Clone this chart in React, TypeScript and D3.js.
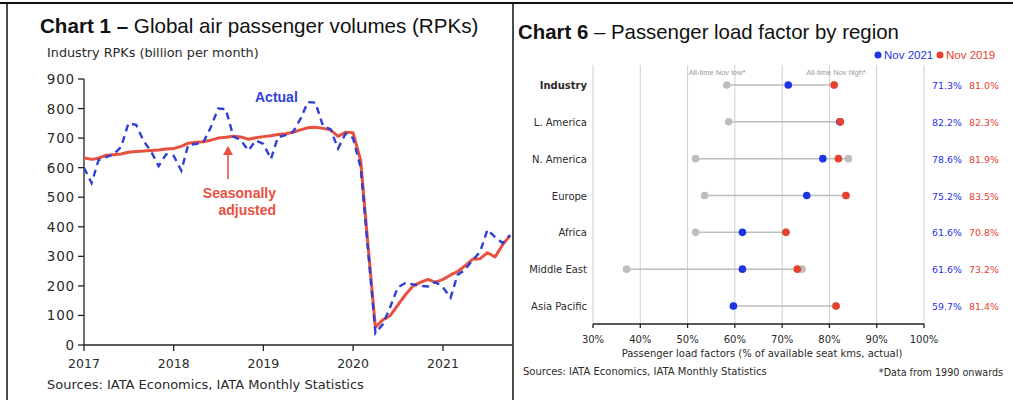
import React, { useEffect, useRef } from 'react';
import * as d3 from 'd3';

// Chart 1: monthly RPKs, Jan 2017 .. Oct 2021 (billion)
const actualRpk = [
  600, 548, 625, 636, 645, 670, 750, 745, 690, 655, 605, 645,
  640, 590, 677, 680, 685, 737, 800, 798, 705, 693, 658, 692,
  680, 630, 703, 710, 720, 765, 822, 820, 740, 730, 665, 715,
  700, 600, 330, 40, 70, 130, 195, 210, 205, 200, 198, 213,
  195, 160, 237, 255, 287, 315, 390, 365, 345, 372,
];
const adjustedRpk = [
  633, 628, 632, 642, 644, 646, 652, 655, 656, 658, 660, 663,
  665, 672, 683, 686, 688, 693, 700, 703, 706, 704, 696, 701,
  705, 708, 712, 715, 720, 728, 735, 737, 733, 728, 706, 720,
  718, 625, 345, 60, 85, 100, 135, 170, 200, 212, 222, 212,
  222, 237, 248, 268, 290, 292, 312, 298, 340, 370,
];
const yearTicks = [2017, 2018, 2019, 2020, 2021];
const rpkTicks = [0, 100, 200, 300, 400, 500, 600, 700, 800, 900];

// Chart 6: load factors (%)
const regions = ['Industry', 'L. America', 'N. America', 'Europe', 'Africa', 'Middle East', 'Asia Pacific'];
const nov2021 = [71.3, 82.2, 78.6, 75.2, 61.6, 61.6, 59.7];
const nov2019 = [81.0, 82.3, 81.9, 83.5, 70.8, 73.2, 81.4];
const allTimeLow = [58.3, 58.7, 51.7, 53.6, 51.7, 37.1, 59.7];
const allTimeHigh = [81.0, 82.3, 84.0, 83.5, 70.8, 74.2, 81.4];
const loadTicks = [30, 40, 50, 60, 70, 80, 90, 100];

const FONT = "'Liberation Sans', Arial, Helvetica, sans-serif";
const WIDE = "'DejaVu Sans', Verdana, sans-serif";
const BLUE = '#2f3fd8';
const RED = '#e8503f';
const DOT_BLUE = '#1f33e6';
const DOT_RED = '#e5412f';
const GREY = '#bdbdbd';
const INK = '#2a2a2a';

export default function App() {
  const svgRef = useRef<SVGSVGElement>(null);

  useEffect(() => {
    if (!svgRef.current) return;
    const svg = d3.select(svgRef.current);
    svg.selectAll('*').remove();
    svg.attr('font-family', FONT);

    // frame
    svg.append('line').attr('x1', 0).attr('x2', 1013).attr('y1', 3).attr('y2', 3)
      .attr('stroke', '#111').attr('stroke-width', 2);
    svg.append('line').attr('x1', 7).attr('x2', 7).attr('y1', 3).attr('y2', 400)
      .attr('stroke', '#111').attr('stroke-width', 1.5);
    svg.append('line').attr('x1', 513).attr('x2', 513).attr('y1', 3).attr('y2', 400)
      .attr('stroke', '#111').attr('stroke-width', 1.5);

    // ---------- Chart 1 ----------
    const left = svg.append('g');
    const t1 = left.append('text').attr('x', 40).attr('y', 33)
      .attr('font-size', 20.6).attr('fill', '#111');
    t1.append('tspan').attr('font-weight', 'bold').text('Chart 1 – ');
    t1.append('tspan').text('Global air passenger volumes (RPKs)');

    left.append('text').attr('x', 47).attr('y', 57).attr('font-size', 12.8)
      .attr('font-family', WIDE).attr('fill', INK).text('Industry RPKs (billion per month)');

    const x = d3.scaleTime()
      .domain([new Date(2017, 0, 1), new Date(2021, 0, 1)])
      .range([84, 443]);
    const y = d3.scaleLinear().domain([0, 900]).range([345, 79]);
    const dateAt = (i: number) => new Date(2017, i, 1);

    left.append('defs').append('clipPath').attr('id', 'clip1')
      .append('rect').attr('x', 84).attr('y', 60).attr('width', 428).attr('height', 300);

    // y axis
    left.append('line').attr('x1', 84).attr('x2', 84).attr('y1', y(900)).attr('y2', y(0))
      .attr('stroke', '#222').attr('stroke-width', 1.3);
    rpkTicks.forEach(v => {
      left.append('line').attr('x1', 78).attr('x2', 84).attr('y1', y(v)).attr('y2', y(v))
        .attr('stroke', '#222').attr('stroke-width', 1.3);
      left.append('text').attr('x', 75).attr('y', y(v) + 5).attr('text-anchor', 'end')
        .attr('font-family', WIDE).attr('font-size', 13.5).attr('letter-spacing', 0.8)
        .attr('fill', INK).text(v);
    });

    // x axis
    left.append('line').attr('x1', 84).attr('x2', 512).attr('y1', y(0)).attr('y2', y(0))
      .attr('stroke', '#222').attr('stroke-width', 1.3);
    yearTicks.forEach(yr => {
      const xx = x(new Date(yr, 0, 1));
      left.append('line').attr('x1', xx).attr('x2', xx).attr('y1', y(0)).attr('y2', y(0) + 6)
        .attr('stroke', '#222').attr('stroke-width', 1.3);
      left.append('text').attr('x', xx).attr('y', 368).attr('text-anchor', 'middle')
        .attr('font-family', WIDE).attr('font-size', 12.5).attr('fill', INK).text(yr);
    });

    const line = d3.line<number>().x((_, i) => x(dateAt(i))).y(d => y(d));

    left.append('path').datum(adjustedRpk).attr('d', line)
      .attr('clip-path', 'url(#clip1)')
      .attr('fill', 'none').attr('stroke', RED).attr('stroke-width', 3)
      .attr('stroke-linejoin', 'round');
    left.append('path').datum(actualRpk).attr('d', line)
      .attr('clip-path', 'url(#clip1)')
      .attr('fill', 'none').attr('stroke', BLUE).attr('stroke-width', 2.4)
      .attr('stroke-dasharray', '7 5');

    left.append('text').attr('x', 255).attr('y', 102).attr('font-size', 14)
      .attr('font-weight', 'bold').attr('fill', BLUE).text('Actual');
    left.append('text').attr('x', 276).attr('y', 198).attr('text-anchor', 'end')
      .attr('font-size', 14).attr('font-weight', 'bold').attr('fill', RED).text('Seasonally');
    left.append('text').attr('x', 276).attr('y', 215).attr('text-anchor', 'end')
      .attr('font-size', 14).attr('font-weight', 'bold').attr('fill', RED).text('adjusted');
    // arrow
    left.append('line').attr('x1', 228).attr('x2', 228).attr('y1', 179).attr('y2', 153)
      .attr('stroke', RED).attr('stroke-width', 1.6);
    left.append('path').attr('d', 'M223,155 L228,146 L233,155 Z').attr('fill', RED);

    left.append('text').attr('x', 47).attr('y', 389).attr('font-size', 13)
      .attr('font-family', WIDE).attr('fill', INK)
      .text('Sources: IATA Economics, IATA Monthly Statistics');

    // ---------- Chart 6 ----------
    const right = svg.append('g');
    const t6 = right.append('text').attr('x', 518).attr('y', 39)
      .attr('font-size', 20.4).attr('fill', '#111');
    t6.append('tspan').attr('font-weight', 'bold').text('Chart 6');
    t6.append('tspan').text(' – Passenger load factor by region');

    // legend
    right.append('circle').attr('cx', 878).attr('cy', 55).attr('r', 3.5).attr('fill', DOT_BLUE);
    right.append('text').attr('x', 884).attr('y', 59).attr('font-size', 11.5)
      .attr('fill', DOT_BLUE).text('Nov 2021');
    right.append('circle').attr('cx', 940).attr('cy', 55).attr('r', 3.5).attr('fill', DOT_RED);
    right.append('text').attr('x', 946).attr('y', 59).attr('font-size', 11.5)
      .attr('fill', DOT_RED).text('Nov 2019');

    const lx = d3.scaleLinear().domain([30, 100]).range([593, 924]);
    const ly = d3.scalePoint<string>().domain(regions).range([85, 306]);

    // grid
    loadTicks.forEach(v => {
      right.append('line').attr('x1', lx(v)).attr('x2', lx(v)).attr('y1', 65).attr('y2', 324)
        .attr('stroke', '#cfcfcf').attr('stroke-width', 1);
    });

    right.append('text').attr('x', 717).attr('y', 75).attr('text-anchor', 'middle')
      .attr('font-size', 7.5).attr('fill', '#9a9a9a').text('All-time Nov low*');
    right.append('text').attr('x', 836).attr('y', 75).attr('text-anchor', 'middle')
      .attr('font-size', 7.5).attr('fill', '#9a9a9a').text('All-time Nov high*');

    // axis
    right.append('line').attr('x1', lx(30)).attr('x2', lx(100)).attr('y1', 324).attr('y2', 324)
      .attr('stroke', '#222').attr('stroke-width', 1.3);
    loadTicks.forEach(v => {
      right.append('line').attr('x1', lx(v)).attr('x2', lx(v)).attr('y1', 324).attr('y2', 328)
        .attr('stroke', '#222').attr('stroke-width', 1.3);
      right.append('text').attr('x', lx(v)).attr('y', 343).attr('text-anchor', 'middle')
        .attr('font-family', WIDE).attr('font-size', 10).attr('fill', INK).text(`${v}%`);
    });
    right.append('text').attr('x', 762).attr('y', 357).attr('text-anchor', 'middle')
      .attr('font-family', WIDE).attr('font-size', 10).attr('fill', INK)
      .text('Passenger load factors (% of available seat kms, actual)');
    right.append('text').attr('x', 523).attr('y', 375).attr('font-size', 10)
      .attr('font-family', WIDE).attr('fill', INK)
      .text('Sources: IATA Economics, IATA Monthly Statistics');
    right.append('text').attr('x', 1003).attr('y', 376).attr('text-anchor', 'end')
      .attr('font-family', WIDE).attr('font-size', 9.6).attr('fill', INK)
      .text('*Data from 1990 onwards');

    regions.forEach((r, i) => {
      const cy = ly(r)!;
      const vals = [nov2021[i], nov2019[i], allTimeLow[i], allTimeHigh[i]];
      right.append('line').attr('x1', lx(d3.min(vals)!)).attr('x2', lx(d3.max(vals)!))
        .attr('y1', cy).attr('y2', cy).attr('stroke', GREY).attr('stroke-width', 1.5);
      right.append('circle').attr('cx', lx(allTimeLow[i])).attr('cy', cy).attr('r', 3.8).attr('fill', GREY);
      right.append('circle').attr('cx', lx(allTimeHigh[i])).attr('cy', cy).attr('r', 3.8).attr('fill', GREY);
      right.append('circle').attr('cx', lx(nov2021[i])).attr('cy', cy).attr('r', 3.8).attr('fill', DOT_BLUE);
      right.append('circle').attr('cx', lx(nov2019[i])).attr('cy', cy).attr('r', 3.8).attr('fill', DOT_RED);

      right.append('text').attr('x', 587).attr('y', cy + 4).attr('text-anchor', 'end')
        .attr('font-family', WIDE).attr('font-size', 10)
        .attr('font-weight', i === 0 ? 'bold' : 'normal')
        .attr('fill', INK).text(r);
      right.append('text').attr('x', 947).attr('y', cy + 4).attr('text-anchor', 'middle')
        .attr('font-family', WIDE).attr('font-size', 9.4).attr('fill', DOT_BLUE)
        .text(`${nov2021[i].toFixed(1)}%`);
      right.append('text').attr('x', 984).attr('y', cy + 4).attr('text-anchor', 'middle')
        .attr('font-family', WIDE).attr('font-size', 9.4).attr('fill', DOT_RED)
        .text(`${nov2019[i].toFixed(1)}%`);
    });
  }, []);

  return (
    <svg
      ref={svgRef}
      width={1013}
      height={400}
      style={{ position: 'absolute', left: 0, top: 0, background: '#fff' }}
    />
  );
}
